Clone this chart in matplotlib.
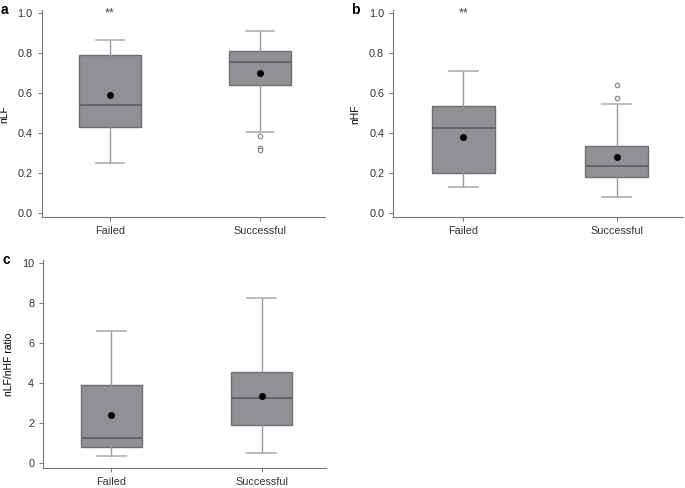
import matplotlib
matplotlib.use("Agg")
import matplotlib.pyplot as plt

plt.rcParams['font.family'] = ['Liberation Sans', 'DejaVu Sans']

groups = ["Failed", "Successful"]

# box stats: (whislo, q1, med, q3, whishi, mean, fliers)
nlf_stats = [
    (0.25, 0.43, 0.54, 0.79, 0.865, 0.592, []),
    (0.405, 0.643, 0.755, 0.81, 0.913, 0.70, [0.384, 0.326, 0.316]),
]
nhf_stats = [
    (0.13, 0.203, 0.428, 0.534, 0.71, 0.38, []),
    (0.08, 0.18, 0.236, 0.336, 0.545, 0.28, [0.577, 0.64]),
]
ratio_stats = [
    (0.35, 0.80, 1.25, 3.88, 6.57, 2.42, []),
    (0.50, 1.90, 3.22, 4.52, 8.25, 3.32, []),
]

box_grey = "#909196"
edge_grey = "#6e6f73"
line_grey = "#9a9a9a"


def make_stats(rows):
    out = []
    for lo, q1, med, q3, hi, mean, fl in rows:
        out.append(dict(whislo=lo, q1=q1, med=med, q3=q3, whishi=hi,
                        mean=mean, fliers=fl))
    return out


def draw_panel(ax, rows, ylabel, ylim, yticks, letter, stars):
    ax.bxp(make_stats(rows), positions=[1, 2], widths=0.41, capwidths=0.19,
           showmeans=True, patch_artist=True,
           boxprops=dict(facecolor=box_grey, edgecolor=edge_grey, linewidth=1.0),
           medianprops=dict(color="#5c5d61", linewidth=1.2),
           whiskerprops=dict(color=line_grey, linewidth=1.0),
           capprops=dict(color="#b0b0b0", linewidth=1.2),
           meanprops=dict(marker="o", markerfacecolor="black",
                          markeredgecolor="black", markersize=4),
           flierprops=dict(marker="o", markerfacecolor="white",
                           markeredgecolor="#808080", markersize=3.2,
                           markeredgewidth=0.8))
    ax.set_xlim(0.545, 2.43)
    ax.set_ylim(*ylim)
    ax.set_yticks(yticks)
    if ylim[1] < 2:
        ax.set_yticklabels(["%.1f" % t for t in yticks])
    ax.set_xticks([1, 2])
    ax.set_xticklabels(groups)
    ax.set_ylabel(ylabel, fontsize=7.5, labelpad=6)
    ax.tick_params(labelsize=7.8, color="#777777", length=3, width=0.7,
                   colors="#333333")
    ax.tick_params(axis="x", pad=3.5)
    for s in ["top", "right"]:
        ax.spines[s].set_visible(False)
    for s in ["left", "bottom"]:
        ax.spines[s].set_color("#777777")
        ax.spines[s].set_linewidth(0.8)
    ax.text(-0.145, 1.0, letter, transform=ax.transAxes, fontsize=10,
            fontweight="bold", va="center", ha="left")
    if stars:
        ax.text(1, ylim[1] - (ylim[1] - ylim[0]) * 0.015, "**", ha="center",
                va="center", fontsize=9, color="#444444")


fig = plt.figure(figsize=(6.85, 4.88), dpi=100)
ax_a = fig.add_axes([0.061, 0.555, 0.413, 0.424])
ax_b = fig.add_axes([0.574, 0.555, 0.423, 0.424])
ax_c = fig.add_axes([0.063, 0.041, 0.413, 0.426])

draw_panel(ax_a, nlf_stats, "nLF", (-0.02, 1.015), [0.0, 0.2, 0.4, 0.6, 0.8, 1.0], "a", True)
draw_panel(ax_b, nhf_stats, "nHF", (-0.02, 1.015), [0.0, 0.2, 0.4, 0.6, 0.8, 1.0], "b", True)
draw_panel(ax_c, ratio_stats, "nLF/nHF ratio", (-0.25, 10.13), [0, 2, 4, 6, 8, 10], "c", False)

fig.savefig("out.png", dpi=100)
